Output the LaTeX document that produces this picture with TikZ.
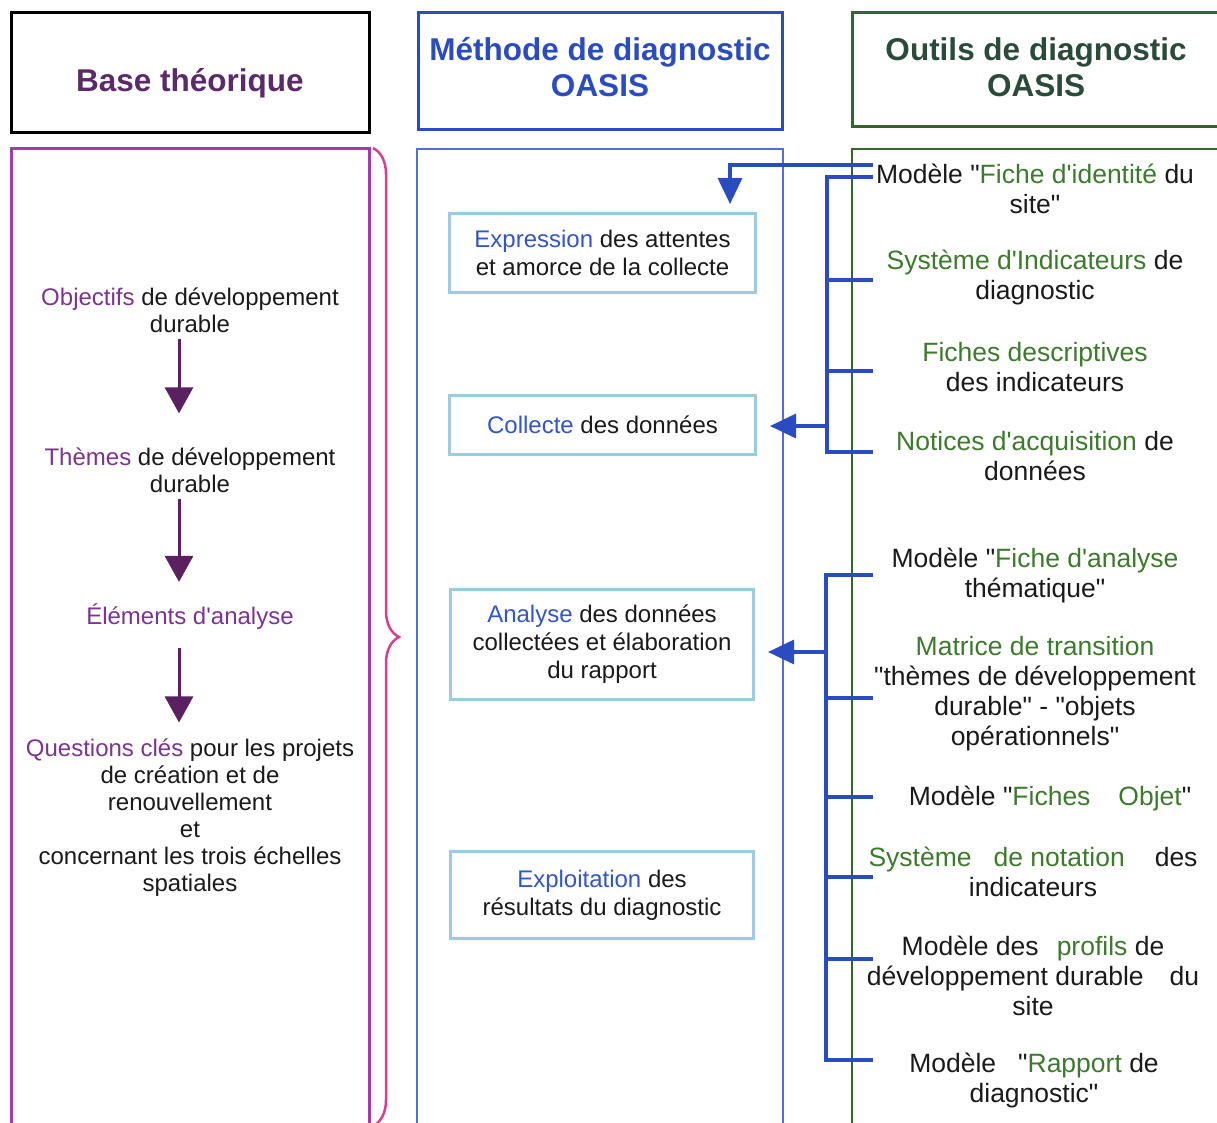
\documentclass[tikz,border=0pt]{standalone}
\usepackage{fontspec}
\setmainfont{Liberation Sans}[Ligatures=TeXOff]
\usetikzlibrary{positioning, arrows.meta, decorations.pathreplacing, calc}

\definecolor{plum}{HTML}{5A2A6A}
\definecolor{basepurple}{HTML}{7B3590}
\definecolor{baseframe}{HTML}{A43CB0}
\definecolor{bracepink}{HTML}{D8408A}
\definecolor{methblue}{HTML}{2A4CC0}
\definecolor{methframe}{HTML}{4E6ED8}
\definecolor{wordblue}{HTML}{3355C8}
\definecolor{stepblue}{HTML}{9CCBE3}
\definecolor{tooldark}{HTML}{2A4A3A}
\definecolor{toolframe}{HTML}{35652A}
\definecolor{toolgreen}{HTML}{3D7A2E}
\definecolor{ink}{HTML}{1A1A1A}
\definecolor{arrowpurple}{HTML}{5A2060}

\tikzstyle{headbox} = [
    rectangle,
    line width=3pt,
    inner sep=0pt
]
\tikzstyle{headtext} = [
    align=center,
    inner sep=0pt,
    font=\fontsize{31.5}{36}\selectfont\bfseries
]
\tikzstyle{stepbox} = [
    rectangle,
    draw=stepblue,
    line width=3pt,
    align=center,
    inner sep=0pt,
    text=ink,
    font=\fontsize{24}{28}\selectfont
]
\tikzstyle{basetext} = [
    align=center,
    inner sep=0pt,
    text=ink,
    font=\fontsize{24}{27}\selectfont
]
\tikzstyle{tooltext} = [
    align=center,
    inner sep=0pt,
    text=ink,
    font=\fontsize{26.5}{30}\selectfont
]
\tikzstyle{bus} = [line width=3.2pt, draw=methblue]
\tikzstyle{bluearrow} = [bus, -{Triangle[width=24pt,length=26pt]}]
\tikzstyle{downarrow} = [line width=3pt, draw=arrowpurple,
    -{Triangle[width=28pt,length=26pt]}]

\newcommand{\bw}[1]{\textcolor{basepurple}{#1}}
\newcommand{\mw}[1]{\textcolor{wordblue}{#1}}
\newcommand{\tw}[1]{\textcolor{toolgreen}{#1}}

\begin{document}
\begin{tikzpicture}[x=1pt, y=-1pt]
\clip (0,0) rectangle (1217,1122);
\fill[white] (0,0) rectangle (1217,1122);

% headers
\node (hbase) [headbox, draw=black, minimum width=358pt, minimum height=120pt] at (190.5,72.5) {};
\node (tbase) [headtext, text=plum] at (190,83) {Base théorique};
\node (hmeth) [headbox, draw=methblue, minimum width=364pt, minimum height=117pt] at (600.5,71) {};
\node (tmeth) [headtext, text=methblue] at (600,67) {Méthode de diagnostic\\OASIS};
\node (htool) [headbox, draw=toolframe, minimum width=406pt, minimum height=114pt] at (1055,69.5) {};
\node (ttool) [headtext, text=tooldark] at (1036,67) {Outils de diagnostic\\OASIS};

% column frames
\draw[baseframe, line width=3pt] (11.5,148.5) rectangle (369.5,1140);
\draw[methframe, line width=2.5pt] (417,149) rectangle (783,1140);
\draw[toolframe, line width=2.5pt] (852,149) rectangle (1260,1140);
\draw[bracepink, line width=2.5pt, decorate,
      decoration={brace, amplitude=26pt, aspect=0.5}] (373,148) -- (373,1126);

% theoretical base
\node (obj) [basetext] at (190,310) {\bw{Objectifs} de développement\\durable};
\node (them) [basetext] at (190,470) {\bw{Thèmes} de développement\\durable};
\node (elem) [basetext, text=basepurple] at (190,617) {Éléments d'analyse};
\node (quest) [basetext] at (190,817.5) {\bw{Questions clés} pour les projets\\de création et de\\renouvellement\\et\\concernant les trois échelles\\spatiales};

\draw [downarrow, shorten <=6pt, shorten >=34pt] ([xshift=-11pt]obj.south) -- ([xshift=-11pt]them.north);
\draw [downarrow, shorten <=6pt, shorten >=22pt] ([xshift=-11pt]them.south) -- ([xshift=-11pt]elem.north);
\draw [downarrow, shorten <=18pt, shorten >=16pt] ([xshift=-11pt]elem.south) -- ([xshift=-11pt]quest.north);

% method steps
\node (expr) [stepbox, minimum width=306pt, minimum height=79pt] at (602.5,253) {\mw{Expression} des attentes\\et amorce de la collecte};
\node (coll) [stepbox, minimum width=306pt, minimum height=59pt] at (602.5,425) {\mw{Collecte} des données};
\node (anal) [stepbox, minimum width=303pt, minimum height=110pt] at (602,644.5) {\mw{Analyse} des données\\collectées et élaboration\\du rapport};
\node (expl) [stepbox, minimum width=303pt, minimum height=87pt] at (602,895) {\mw{Exploitation} des\\résultats du diagnostic};

% tools
\node (t1) [tooltext] at (1035,188.5) {Modèle "\tw{Fiche d'identité} du\\site"};
\node (t2) [tooltext] at (1035,277.5) {\tw{Système d'Indicateurs} de\\diagnostic};
\node (t3) [tooltext] at (1035,367) {\tw{Fiches descriptives}\\des indicateurs};
\node (t4) [tooltext] at (1035,456) {\tw{Notices d'acquisition} de\\données};
\node (t5) [tooltext] at (1035,575) {Modèle "\tw{Fiche d'analyse}\\thématique"};
\node (t6) [tooltext] at (1035,694) {\tw{Matrice de transition}\\"thèmes de développement\\durable" - "objets\\opérationnels"};
\node (t7) [tooltext] at (1050,798) {Modèle "\tw{Fiches\hspace{28pt}Objet}"};
\node (t8) [tooltext] at (1033,872) {\tw{Système\hspace{22pt}de notation}\hspace{30pt}des\\indicateurs};
\node (t9) [tooltext] at (1033,976) {Modèle des\hspace{18pt}\tw{profils} de\\développement durable\hspace{26pt}du\\site};
\node (t10) [tooltext] at (1034,1080) {Modèle\hspace{22pt}"\tw{Rapport} de\\diagnostic"};

% links
\coordinate (sA) at (827,0);
\coordinate (sB) at (826,0);
\coordinate (k0) at (873,165);
\coordinate (k1) at (873,177);
\coordinate (k2) at (873,280);
\coordinate (k3) at (873,371);
\coordinate (k4) at (873,452);
\coordinate (k5) at (873,575);
\coordinate (k6) at (873,698);
\coordinate (k7) at (873,797);
\coordinate (k8) at (873,877);
\coordinate (k9) at (873,959);
\coordinate (k10) at (873,1060);
\coordinate (eIn) at ($(expr.north east)+(-27,-8)$);
\coordinate (cIn) at ($(coll.east)+(13,1)$);
\coordinate (aIn) at ($(anal.east)+(13,7.5)$);

\draw [bluearrow] (k0) -| (eIn);
\draw [bus] (k1) -- (k1 -| sA) -- (k4 -| sA) -- (k4);
\draw [bus] (k2 -| sA) -- (k2);
\draw [bus] (k3 -| sA) -- (k3);
\draw [bluearrow] (cIn -| sA) -- (cIn);

\draw [bus] (k5) -- (k5 -| sB) -- (k10 -| sB) -- (k10);
\foreach \k in {k6,k7,k8,k9}
    \draw [bus] (\k -| sB) -- (\k);
\draw [bluearrow] (aIn -| sB) -- (aIn);

\end{tikzpicture}
\end{document}
